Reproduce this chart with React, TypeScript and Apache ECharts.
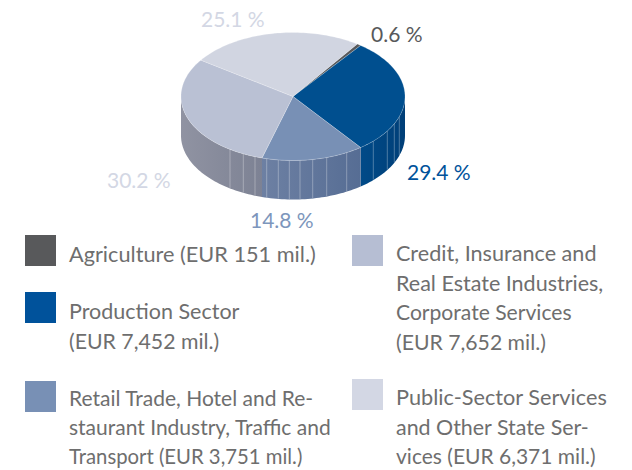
import React, { useEffect, useRef } from "react";
import * as echarts from "echarts";

const sectorNames = ["Agriculture", "Production Sector", "Retail Trade", "Credit and Real Estate", "Public-Sector Services"];
const amounts = [151, 7452, 3751, 7652, 6371];
const percentLabels = ["0.6 %", "29.4 %", "14.8 %", "30.2 %", "25.1 %"];
const legendLines = [
  ["Agriculture (EUR 151 mil.)"],
  ["Production Sector", "(EUR 7,452 mil.)"],
  ["Retail Trade, Hotel and Re-", "staurant Industry, Traffic and", "Transport (EUR 3,751 mil.)"],
  ["Credit, Insurance and", "Real Estate Industries,", "Corporate Services", "(EUR 7,652 mil.)"],
  ["Public-Sector Services", "and Other State Ser-", "vices (EUR 6,371 mil.)"],
];
const lineFits = [
  [1.034],
  [1.024, 1.013],
  [1, 1, 0.967],
  [1.03, 1.025, 1.005, 1.01],
  [1.034, 1.02, 1],
];

const topColors = ["#58595b", "#004f8f", "#7890b5", "#bac1d4", "#d1d5e1"];
const legendColors = ["#58595b", "#00529b", "#7890b5", "#b6bed3", "#d3d7e4"];
const labelColors = ["#58595b", "#00529b", "#7d96bc", "#d3d7e4", "#d3d7e4"];
const sideStops = [
  ["#444", "#444"],
  ["#003f78", "#004a88"],
  ["#566d94", "#6d80a3"],
  ["#7d8294", "#9093a2"],
  ["#aaa", "#aaa"],
];

const CX = 293, CY = 96.5, RX = 112, RY = 64, DEPTH = 39, START = 35;
const stripeXs = [230, 243.3, 255, 266.7, 278.3, 289.3, 300, 312.7, 326.7, 346.7, 373.3, 387.3, 394.3, 399.3];
const labelBoxes = [
  [371, 33], [407, 171], [250, 219], [107, 179], [201, 18],
];
const legendBoxes = [
  { sx: 25, sy: 235, tx: 69, base: 262 },
  { sx: 25, sy: 292, tx: 69, base: 319 },
  { sx: 25, sy: 381, tx: 69, base: 405 },
  { sx: 352, sy: 235, tx: 396, base: 261 },
  { sx: 352, sy: 379, tx: 396, base: 405 },
];
const FONT = "Lato";
const LINE = 29.2;

const pt = (deg: number, dy = 0): number[] => {
  const r = (deg * Math.PI) / 180;
  return [CX + RX * Math.sin(r), CY - RY * Math.cos(r) + dy];
};
const arc = (a: number, b: number, dy = 0) => {
  const out: number[][] = [];
  const n = Math.max(2, Math.ceil((b - a) / 1.5));
  for (let i = 0; i <= n; i++) out.push(pt(a + ((b - a) * i) / n, dy));
  return out;
};

const total = amounts.reduce((s, v) => s + v, 0);
const startOf = (i: number) => START + (amounts.slice(0, i).reduce((s, v) => s + v, 0) / total) * 360;

function renderSector(params: any, api: any) {
  const i = params.dataIndex;
  const a = startOf(i);
  const b = a + (api.value(0) / total) * 360;
  const children: any[] = [];
  const sa = Math.max(a, 90), sb = Math.min(b, 270);
  if (sb > sa) {
    const p0 = pt(sa), p1 = pt(sb);
    children.push({
      type: "polygon",
      shape: { points: [...arc(sa, sb), ...arc(sa, sb, DEPTH).reverse()] },
      style: {
        fill: new echarts.graphic.LinearGradient(p0[0] > p1[0] ? 1 : 0, 0, p0[0] > p1[0] ? 0 : 1, 0, [
          { offset: 0, color: sideStops[i][0] },
          { offset: 1, color: sideStops[i][1] },
        ]),
      },
    });
    const xl = Math.min(p0[0], p1[0]), xr = Math.max(p0[0], p1[0]);
    stripeXs.filter((x) => x > xl && x < xr).forEach((x) => {
      const y = CY + RY * Math.sqrt(1 - ((x - CX) / RX) ** 2);
      children.push({
        type: "line",
        shape: { x1: x, y1: y, x2: x, y2: y + DEPTH - 0.5 },
        style: { stroke: "rgba(255,255,255,0.3)", lineWidth: 1 },
      });
    });
  }
  children.push({
    type: "polygon",
    shape: { points: [[CX, CY], ...arc(a, b)] },
    style: { fill: topColors[i], stroke: "rgba(255,255,255,0.35)", lineWidth: 0.6 },
  });
  return { type: "group", children };
}

export default function App() {
  const ref = useRef<HTMLDivElement>(null);
  useEffect(() => {
    document.body.style.margin = "0";
    const chart = echarts.init(ref.current!, undefined, { renderer: "svg" });
    const graphic: any[] = [];
    percentLabels.forEach((t, i) => {
      graphic.push({
        type: "text", x: labelBoxes[i][0], y: labelBoxes[i][1],
        style: { text: t, font: `21px ${FONT}`, fill: labelColors[i], textAlign: "left", textVerticalAlign: "middle" },
      });
    });
    legendLines.forEach((lines, i) => {
      const b = legendBoxes[i];
      graphic.push({ type: "rect", shape: { x: b.sx, y: b.sy, width: 31, height: 31 }, style: { fill: legendColors[i] } });
      lines.forEach((t, k) => {
        graphic.push({
          type: "text", x: b.tx, y: b.base - 7.5 + k * LINE, scaleX: lineFits[i][k],
          style: { text: t, font: `21px ${FONT}`, fill: "#6e6e6e", textAlign: "left", textVerticalAlign: "middle" },
        });
      });
    });
    chart.setOption({
      animation: false,
      backgroundColor: "#ffffff",
      graphic,
      series: [
        {
          type: "custom",
          name: "Sectors",
          coordinateSystem: "none",
          renderItem: renderSector,
          data: amounts.map((v, i) => ({ name: sectorNames[i], value: [v] })),
        },
      ],
    });
    return () => chart.dispose();
  }, []);
  return <div ref={ref} style={{ width: 632, height: 470 }} />;
}
